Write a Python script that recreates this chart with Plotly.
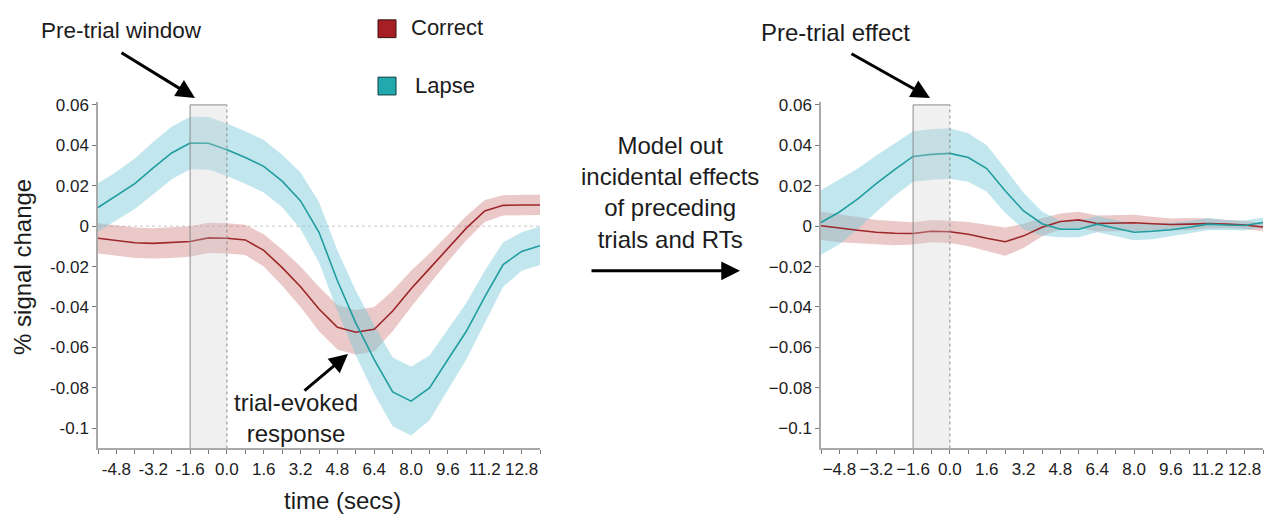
import plotly.graph_objects as go

# ---------------- data ----------------
time_s = [-5.6, -4.8, -4.0, -3.2, -2.4, -1.6, -0.8, 0.0, 0.8, 1.6, 2.4, 3.2, 4.0,
          4.8, 5.6, 6.4, 7.2, 8.0, 8.8, 9.6, 10.4, 11.2, 12.0, 12.8, 13.6]

# left panel (raw)
correct_raw = [-0.006, -0.007, -0.0082, -0.0085, -0.0082, -0.0076, -0.0058, -0.006, -0.0068,
               -0.012, -0.0205, -0.030, -0.041, -0.050, -0.0525, -0.051, -0.042, -0.031,
               -0.021, -0.011, -0.001, 0.0075, 0.0103, 0.0105, 0.0105]
correct_raw_se = [0.0075, 0.0075, 0.0075, 0.0075, 0.0075, 0.0075, 0.0075, 0.0075, 0.0075,
                  0.008, 0.009, 0.010, 0.011, 0.011, 0.011, 0.011, 0.010, 0.009,
                  0.0075, 0.0065, 0.006, 0.0055, 0.005, 0.005, 0.005]
lapse_raw = [0.0092, 0.0149, 0.021, 0.0288, 0.0362, 0.0411, 0.041, 0.0378, 0.034,
             0.0296, 0.0223, 0.0125, -0.003, -0.027, -0.048, -0.066, -0.082, -0.0866,
             -0.080, -0.066, -0.052, -0.035, -0.019, -0.0125, -0.0097]
lapse_raw_se = [0.012, 0.012, 0.0125, 0.013, 0.013, 0.013, 0.013, 0.013, 0.013,
                0.013, 0.013, 0.014, 0.015, 0.015, 0.016, 0.017, 0.017, 0.017,
                0.016, 0.015, 0.014, 0.013, 0.011, 0.0095, 0.0095]

# right panel (modelled)
correct_mod = [0.0002, -0.001, -0.002, -0.003, -0.0035, -0.0036, -0.0025, -0.0028, -0.004,
               -0.006, -0.0077, -0.0048, -0.0005, 0.0023, 0.0031, 0.0013, 0.0015, 0.0017,
               0.0012, 0.0008, 0.001, 0.0013, 0.001, 0.0006, -0.0004]
correct_mod_se = [0.007, 0.007, 0.0065, 0.006, 0.006, 0.0055, 0.0055, 0.0055, 0.006,
                  0.0065, 0.007, 0.006, 0.0045, 0.004, 0.004, 0.004, 0.004, 0.004,
                  0.0035, 0.003, 0.003, 0.0025, 0.002, 0.002, 0.002]
lapse_mod = [0.0018, 0.007, 0.0135, 0.021, 0.028, 0.0345, 0.0355, 0.036, 0.034,
             0.0285, 0.0175, 0.0075, 0.0012, -0.0015, -0.0015, 0.001, -0.001, -0.003,
             -0.0025, -0.0018, -0.0005, 0.001, 0.0006, 0.0003, 0.0018]
lapse_mod_se = [0.016, 0.016, 0.015, 0.014, 0.013, 0.0125, 0.0125, 0.0125, 0.012,
                0.0115, 0.011, 0.009, 0.006, 0.004, 0.004, 0.004, 0.004, 0.004,
                0.004, 0.0035, 0.003, 0.003, 0.0025, 0.0025, 0.0025]

window_start, window_end = -1.6, 0.0

x_tick_vals = time_s
x_tick_labels = ["-4.8", "-3.2", "-1.6", "0.0", "1.6", "3.2", "4.8", "6.4", "8.0", "9.6", "11.2", "12.8"]
y_tick_vals = [0.06, 0.04, 0.02, 0, -0.02, -0.04, -0.06, -0.08, -0.1]
y_tick_labels = ["0.06", "0.04", "0.02", "0", "-0.02", "-0.04", "-0.06", "-0.08", "-0.1"]

# ---------------- style ----------------
W, H = 1265, 514
FONT = "Liberation Sans, Arial, Helvetica, sans-serif"
TXT = "#1c1c1c"
RED_LINE = "#9c2629"
RED_BAND = "rgba(200,100,100,0.35)"
TEAL_LINE = "#1f9d9f"
TEAL_BAND = "rgba(120,200,215,0.45)"
AX_COL = "#a8a8a8"
TICK_SIZE = 17


def px(x):
    return x / W


def py(y):
    return 1 - y / H


def xt_text(minus):
    labels = []
    j = 0
    for i, _ in enumerate(x_tick_vals):
        if i % 2 == 1:
            lab = x_tick_labels[j]
            j += 1
            labels.append(lab.replace("-", "\u2212") if minus else lab)
        else:
            labels.append("")
    return labels


fig = go.Figure()


def add_band(mean, se, color_band, xa, ya):
    upper = [m + s for m, s in zip(mean, se)]
    lower = [m - s for m, s in zip(mean, se)]
    fig.add_trace(go.Scatter(
        x=time_s + time_s[::-1], y=upper + lower[::-1], fill="toself",
        fillcolor=color_band, line=dict(width=0), mode="lines",
        hoverinfo="skip", showlegend=False, xaxis=xa, yaxis=ya))


# left panel: bands first, then lines
add_band(correct_raw, correct_raw_se, RED_BAND, "x", "y")
add_band(lapse_raw, lapse_raw_se, TEAL_BAND, "x", "y")
fig.add_trace(go.Scatter(x=time_s, y=correct_raw, mode="lines", line=dict(color=RED_LINE, width=1.6),
                         showlegend=False, xaxis="x", yaxis="y"))
fig.add_trace(go.Scatter(x=time_s, y=lapse_raw, mode="lines", line=dict(color=TEAL_LINE, width=1.6),
                         showlegend=False, xaxis="x", yaxis="y"))

# right panel
add_band(correct_mod, correct_mod_se, RED_BAND, "x2", "y2")
add_band(lapse_mod, lapse_mod_se, TEAL_BAND, "x2", "y2")
fig.add_trace(go.Scatter(x=time_s, y=correct_mod, mode="lines", line=dict(color=RED_LINE, width=1.6),
                         showlegend=False, xaxis="x2", yaxis="y2"))
fig.add_trace(go.Scatter(x=time_s, y=lapse_mod, mode="lines", line=dict(color=TEAL_LINE, width=1.6),
                         showlegend=False, xaxis="x2", yaxis="y2"))

y_dom = [py(447.7), py(97)]
y_rng = [-0.11, 0.0615]

common_x = dict(range=[-5.6, 13.6], tickmode="array", tickvals=x_tick_vals,
                showline=True, linecolor=AX_COL, linewidth=1.5, ticks="outside",
                ticklen=4, tickcolor="#777", tickwidth=1, showgrid=False, zeroline=False,
                tickfont=dict(family=FONT, size=TICK_SIZE, color=TXT), fixedrange=True)
common_y = dict(range=y_rng, domain=y_dom, tickmode="array", tickvals=y_tick_vals,
                showline=True, linecolor=AX_COL, linewidth=1.5, ticks="outside",
                ticklen=4, tickcolor="#777", tickwidth=1, showgrid=False, zeroline=False,
                tickfont=dict(family=FONT, size=TICK_SIZE, color=TXT), fixedrange=True)

fig.update_layout(
    width=W, height=H,
    margin=dict(l=0, r=0, t=0, b=0),
    paper_bgcolor="white", plot_bgcolor="white",
    showlegend=False,
    font=dict(family=FONT, color=TXT),
    xaxis=dict(domain=[px(98), px(540)], anchor="y", ticktext=xt_text(False), **common_x),
    yaxis=dict(anchor="x", ticktext=y_tick_labels, **common_y),
    xaxis2=dict(domain=[px(821), px(1263)], anchor="y2", ticktext=xt_text(True), **common_x),
    yaxis2=dict(anchor="x2", ticktext=[t.replace("-", "\u2212") for t in y_tick_labels], **common_y),
)

# zero reference line (left)
fig.add_shape(type="line", xref="x", yref="y", x0=-5.6, x1=13.6, y0=0, y1=0,
              line=dict(color="#c8c8c8", width=1, dash="dot"), layer="below")

# pre-trial windows
for xr, yr in (("x", "y"), ("x2", "y2")):
    fig.add_shape(type="rect", xref=xr, yref=yr, x0=window_start, x1=window_end,
                  y0=y_rng[0], y1=0.06, fillcolor="rgba(205,205,205,0.3)",
                  line=dict(width=0), layer="above")
    fig.add_shape(type="line", xref=xr, yref=yr, x0=window_start, x1=window_start,
                  y0=y_rng[0], y1=0.06, line=dict(color="#8a8a8a", width=1), layer="above")
    fig.add_shape(type="line", xref=xr, yref=yr, x0=window_end, x1=window_end,
                  y0=y_rng[0], y1=0.06, line=dict(color="#8a8a8a", width=1, dash="dot"), layer="above")
    fig.add_shape(type="line", xref=xr, yref=yr, x0=window_start, x1=window_end,
                  y0=0.06, y1=0.06, line=dict(color="#8a8a8a", width=1), layer="above")

# legend squares
fig.add_shape(type="rect", xref="paper", yref="paper", x0=px(378), x1=px(396), y0=py(32), y1=py(14),
              fillcolor="#a51f24", line=dict(color="#3a1010", width=1))
fig.add_shape(type="rect", xref="paper", yref="paper", x0=px(378), x1=px(396), y0=py(90), y1=py(72),
              fillcolor="#22a9ae", line=dict(color="#0d3c3e", width=1))


def text(s, x, y, size=22, xanchor="center", angle=0):
    fig.add_annotation(text=s, xref="paper", yref="paper", x=px(x), y=py(y),
                       xanchor=xanchor, yanchor="middle", showarrow=False, textangle=angle,
                       font=dict(family=FONT, size=size, color=TXT))


def arrow(x_head, y_head, x_tail, y_tail):
    fig.add_annotation(text="", xref="paper", yref="paper", x=px(x_head), y=py(y_head),
                       ax=x_tail - x_head, ay=y_tail - y_head, axref="pixel", ayref="pixel",
                       showarrow=True, arrowhead=2, arrowsize=1.25, arrowwidth=3, arrowcolor="#000")


text("Correct", 409, 22, xanchor="left")
text("Lapse", 413, 80, xanchor="left")
text("Pre-trial window", 121, 25, size=22.5)
text("Pre-trial effect", 835, 27, size=24)
text("trial-evoked<br>response", 296, 417, size=24)
text("Model out<br>incidental effects<br>of preceding<br>trials and RTs", 670, 189, size=24)
text("time (secs)", 342, 500, size=24)
text("% signal change", 23, 264, size=24, angle=-90)

arrow(195, 93, 120, 47)
arrow(930, 93, 850, 48)
arrow(348, 352, 303, 390)
arrow(740, 268, 590, 268)

fig.write_html("out.html")
